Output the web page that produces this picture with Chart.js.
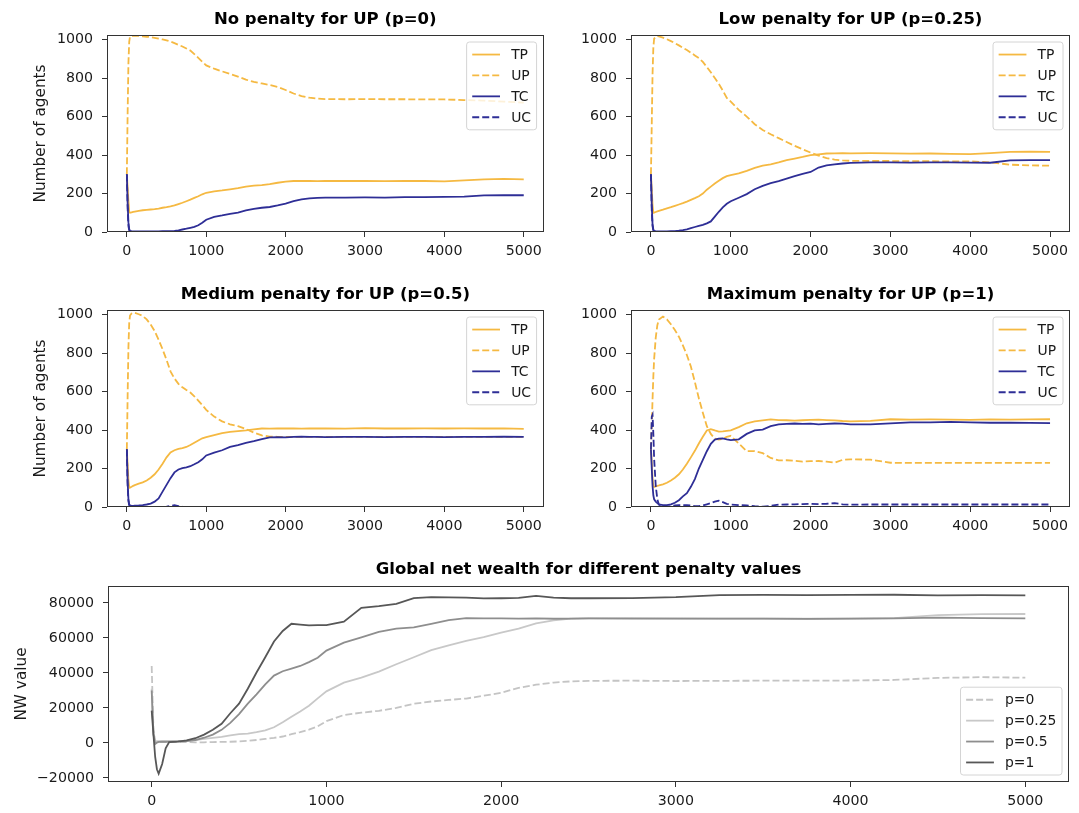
<!DOCTYPE html>
<html>
<head>
<meta charset="utf-8">
<script src="https://cdn.jsdelivr.net/npm/chart.js@4.4.0/dist/chart.umd.min.js"></script>
<style>
  html, body { margin: 0; padding: 0; background: #fff; }
  #fig { position: relative; width: 1079px; height: 813px; overflow: hidden; background: #fff; }
  #fig canvas { position: absolute; }
</style>
</head>
<body>
<div id="fig">
  <canvas id="c1" width="548" height="268" style="left:0px;top:0px"></canvas>
  <canvas id="c2" width="531" height="268" style="left:548px;top:0px"></canvas>
  <canvas id="c3" width="548" height="268" style="left:0px;top:275px"></canvas>
  <canvas id="c4" width="531" height="268" style="left:548px;top:275px"></canvas>
  <canvas id="c5" width="1079" height="263" style="left:0px;top:550px"></canvas>
</div>
<script>
// simulation steps (shared x values of every series)
const STEPS = [0, 10, 20, 30, 40, 60, 80, 100,
  150, 200, 250, 300, 350, 400, 450, 500, 550, 600, 650, 700, 750, 800, 850, 900, 950, 1000,
  1100, 1200, 1300, 1400, 1500, 1600, 1700, 1800, 1900, 2000, 2100, 2200, 2300, 2400, 2500,
  2750, 3000, 3250, 3500, 3750, 4000, 4250, 4500, 4750, 5000];

const X_TICKS = [0, 1000, 2000, 3000, 4000, 5000];
const AGENT_TICKS = [0, 200, 400, 600, 800, 1000];
const NW_TICKS = [-20000, 0, 20000, 40000, 60000, 80000];

// p = 0
const TP_P0 = [300, 230, 160, 105, 100, 102, 104, 106,
  110, 113, 115, 117, 119, 122, 126, 129, 133, 138, 145, 152, 160, 168, 177, 186, 196, 204,
  211, 216, 222, 228, 236, 241, 244, 249, 256, 262, 265, 265, 266, 264, 266,
  265, 266, 264, 266, 265, 263, 268, 274, 276, 274];
const UP_P0 = [300, 620, 880, 990, 1016, 1020, 1020, 1019,
  1019, 1017, 1015, 1013, 1009, 1005, 1001, 996, 990, 982, 973, 964, 954, 943, 925, 905, 885, 866,
  849, 835, 822, 808, 792, 780, 772, 764, 754, 738, 720, 706, 698, 693, 691,
  690, 691, 690, 690, 689, 689, 686, 683, 678, 672];
const TC_P0 = [300, 150, 50, 15, 6, 4, 3, 3,
  3, 3, 3, 3, 3, 3, 4, 4, 5, 6, 9, 13, 17, 22, 27, 35, 48, 64,
  79, 86, 94, 101, 112, 120, 126, 130, 138, 147, 160, 170, 175, 177, 179,
  179, 180, 179, 181, 181, 183, 184, 190, 191, 191];
const UC_P0 = [300, 120, 30, 8, 2, 1, 0, 0,
  0, 0, 0, 0, 0, 0, 0, 0, 0, 0, 0, 0, 0, 0, 0, 0, 0, 0,
  0, 0, 0, 0, 0, 0, 0, 0, 0, 0, 0, 0, 0, 0, 0,
  0, 0, 0, 0, 0, 0, 0, 0, 0, 0];

// p = 0.25
const TP_P1 = [300, 220, 140, 100, 101, 104, 107, 110,
  116, 123, 129, 136, 143, 150, 158, 167, 176, 186, 200, 220, 236, 252, 266, 280, 290, 296,
  305, 318, 333, 345, 352, 362, 374, 382, 390, 400, 404, 408, 409, 410, 409,
  410, 409, 407, 408, 406, 405, 410, 416, 418, 416];
const UP_P1 = [300, 560, 820, 960, 1005, 1015, 1018, 1017,
  1010, 1002, 992, 982, 970, 958, 946, 932, 918, 904, 884, 858, 830, 800, 770, 735, 697, 678,
  635, 600, 560, 530, 508, 488, 468, 448, 430, 413, 397, 384, 376, 372, 370,
  369, 369, 368, 368, 367, 367, 362, 350, 346, 345];
const TC_P1 = [300, 140, 40, 12, 6, 4, 3, 3,
  3, 3, 4, 5, 7, 10, 14, 20, 26, 32, 37, 45, 55, 80, 105, 128, 147, 160,
  178, 197, 222, 240, 254, 265, 278, 290, 302, 312, 335, 346, 352, 356, 359,
  362, 362, 361, 362, 362, 361, 360, 372, 374, 374];
const UC_P1 = [300, 110, 30, 8, 2, 1, 0, 0,
  0, 0, 0, 0, 0, 0, 0, 0, 0, 0, 0, 0, 0, 0, 0, 0, 0, 0,
  0, 0, 0, 0, 0, 0, 0, 0, 0, 0, 0, 0, 0, 0, 0,
  0, 0, 0, 0, 0, 0, 0, 0, 0, 0];

// p = 0.5
const TP_P2 = [300, 220, 140, 100, 101, 105, 110, 114,
  121, 128, 138, 152, 170, 195, 225, 258, 284, 295, 302, 306, 312, 322, 334, 346, 357, 363,
  374, 384, 390, 394, 398, 404, 408, 407, 409, 408, 408, 407, 408, 409, 408,
  407, 410, 408, 408, 409, 408, 409, 408, 409, 406];
const UP_P2 = [300, 580, 830, 960, 995, 1006, 1010, 1009,
  1002, 993, 975, 948, 915, 870, 820, 765, 705, 668, 640, 622, 608, 595, 575, 553, 530, 505,
  470, 445, 430, 420, 405, 387, 372, 366, 365, 365, 365, 365, 365, 365, 365,
  365, 365, 365, 365, 365, 365, 365, 365, 365, 365];
const TC_P2 = [300, 130, 40, 14, 8, 6, 6, 7,
  8, 10, 13, 18, 28, 45, 80, 115, 150, 180, 195, 202, 206, 212, 222, 233, 248, 268,
  283, 295, 312, 322, 333, 342, 353, 362, 363, 362, 365, 366, 364, 365, 363,
  365, 364, 363, 365, 364, 363, 364, 365, 366, 364];
const UC_P2 = [300, 110, 30, 8, 2, 0, 0, 0,
  0, 0, 0, 0, 0, 0, 0, 2, 5, 9, 5, 1, 0, 0, 0, 0, 0, 0,
  0, 0, 0, 0, 0, 0, 0, 0, 0, 0, 0, 0, 0, 0, 0,
  0, 0, 0, 0, 0, 0, 0, 0, 0, 0];

// p = 1
const TP_P3 = [300, 230, 150, 108, 104, 107, 110, 112,
  118, 126, 138, 152, 170, 195, 225, 258, 292, 330, 365, 398, 405, 398, 392, 393, 396, 398,
  415, 435, 445, 450, 455, 452, 451, 449, 451, 453, 454, 452, 450, 447, 445,
  448, 456, 454, 455, 454, 453, 455, 454, 455, 456];
const UP_P3 = [300, 420, 560, 680, 770, 880, 945, 975,
  990, 975, 950, 920, 885, 840, 790, 730, 650, 565, 490, 420, 380, 355, 350, 355, 365, 370,
  330, 290, 290, 280, 255, 242, 243, 240, 236, 238, 239, 236, 230, 245, 248,
  246, 230, 229, 229, 229, 229, 229, 229, 229, 229];
const TC_P3 = [300, 200, 110, 60, 40, 28, 20, 14,
  10, 10, 14, 22, 35, 55, 72, 105, 145, 200, 245, 290, 328, 350, 355, 357, 352, 348,
  352, 380, 398, 402, 420, 430, 432, 434, 432, 433, 430, 432, 434, 433, 430,
  429, 435, 440, 440, 442, 440, 438, 439, 437, 436];
const UC_P3 = [300, 470, 480, 380, 250, 110, 40, 12,
  4, 2, 4, 8, 10, 10, 9, 8, 5, 4, 8, 14, 20, 28, 33, 25, 16, 13,
  10, 8, 4, 2, 6, 12, 13, 14, 15, 16, 15, 17, 20, 14, 12,
  13, 13, 13, 13, 13, 13, 13, 13, 13, 13];

// global net wealth
const NW_P0 = [44000, 8000, 1000, 600, 500, 500, 500, 500,
  500, 500, 400, 400, 500, 600, 700, 900, 1200, 1700, 2300, 2900, 3700, 5000, 6200, 7600, 9500, 12500,
  16000, 17300, 18400, 20000, 22400, 23700, 24600, 25400, 27000, 28700, 31500, 33300, 34500, 35200, 35500,
  35600, 35400, 35500, 35600, 35600, 35700, 36000, 37200, 37600, 37300];
const NW_P1 = [31000, 5000, 800, 1000, 1000, 1000, 1000, 1000,
  1100, 1300, 1700, 2300, 2900, 3500, 4300, 5000, 5400, 6200, 7200, 9000, 11800, 15000, 18000, 21300, 25500, 29500,
  34500, 37300, 40800, 45000, 49000, 53000, 55800, 58300, 60500, 63000, 65300, 68300, 70000, 71000, 71200,
  71300, 71200, 71100, 71000, 71000, 71100, 71300, 73000, 73600, 73700];
const NW_P2 = [30000, 5000, -600, 200, 600, 700, 700, 800,
  900, 1100, 1700, 3000, 4800, 7500, 11500, 16500, 22500, 27800, 33500, 38500, 41000, 42500, 44000, 46200, 48700, 52800,
  57300, 60300, 63500, 65300, 66000, 68000, 70200, 71300, 71200, 71200, 71100, 71200, 71000, 71100, 71200,
  71000, 71100, 71000, 71100, 70900, 71000, 71200, 71600, 71300, 71200];
const NW_P3 = [18500, 5000, -8000, -15000, -17500, -12000, -3000, 500,
  800, 1500, 2700, 4800, 7500, 11000, 17000, 22500, 31000, 40300, 49000, 58000, 64000, 68100, 67600, 67200, 67300, 67400,
  69300, 77200, 78200, 79500, 82800, 83300, 83200, 83000, 82600, 82700, 82900, 84000, 83000, 82700, 82700,
  82800, 83300, 84500, 84600, 84500, 84600, 84700, 84300, 84500, 84300];

const ORANGE = '#f5b942';
const NAVY = '#2e2e96';
const AXIS = '#333333';
const TEXT = '#1a1a1a';
const DASH = [7, 3];
const TICK_FONT = 14.2;

Chart.defaults.font.family = '"DejaVu Sans", sans-serif';

function fmt(v) {
  return v < 0 ? '\u2212' + Math.abs(v) : String(v);
}

// axes frame + matplotlib style legend box
const boxLegend = {
  id: 'boxLegend',
  afterDraw(chart, args, opts) {
    const { ctx, chartArea: a } = chart;
    ctx.save();
    ctx.strokeStyle = AXIS;
    ctx.lineWidth = 1;
    ctx.setLineDash([]);
    const l = Math.round(a.left) + 0.5, t = Math.round(a.top) + 0.5;
    const r = Math.round(a.right) - 0.5, b = Math.round(a.bottom) - 0.5;
    ctx.strokeRect(l, t, r - l, b - t);

    const fs = 13.9;
    ctx.font = fs + 'px "DejaVu Sans"';
    const sets = chart.data.datasets;
    const textW = Math.max(...sets.map(d => ctx.measureText(d.label).width));
    const pad = 5.6, handle = 27.8, gap = 11.1, space = 7;
    const w = pad * 2 + handle + gap + textW;
    const h = pad * 2 + sets.length * fs + (sets.length - 1) * space;
    const x0 = a.right - 7 - w;
    const y0 = opts.corner === 'lower right' ? a.bottom - 7 - h : a.top + 7;

    ctx.beginPath();
    ctx.roundRect(x0, y0, w, h, 2.8);
    ctx.fillStyle = 'rgba(255,255,255,0.8)';
    ctx.fill();
    ctx.strokeStyle = '#d4d4d4';
    ctx.stroke();

    sets.forEach((d, i) => {
      const cy = y0 + pad + i * (fs + space) + fs / 2;
      ctx.beginPath();
      ctx.setLineDash(d.borderDash);
      ctx.strokeStyle = d.borderColor;
      ctx.lineWidth = d.borderWidth;
      ctx.moveTo(x0 + pad, cy);
      ctx.lineTo(x0 + pad + handle, cy);
      ctx.stroke();
      ctx.setLineDash([]);
      ctx.fillStyle = TEXT;
      ctx.textBaseline = 'middle';
      ctx.textAlign = 'left';
      ctx.fillText(d.label, x0 + pad + handle + gap, cy + 1);
    });
    ctx.restore();
  }
};

function panel(id, o) {
  const datasets = o.series.map((s, i) => ({
    label: s.label,
    data: STEPS.map((t, k) => ({ x: t, y: s.values[k] })),
    borderColor: s.color,
    borderWidth: 1.8,
    borderDash: s.dash ? DASH : [],
    pointRadius: 0,
    fill: false,
    tension: 0,
    order: o.series.length - i
  }));

  const tickGrid = { drawOnChartArea: false, drawTicks: true, tickLength: 5, color: AXIS, lineWidth: 1 };

  return new Chart(document.getElementById(id), {
    type: 'line',
    data: { datasets },
    options: {
      responsive: false,
      animation: false,
      devicePixelRatio: 1,
      events: [],
      layout: { padding: { left: 0, right: o.padRight, top: 0, bottom: 0 } },
      scales: {
        x: {
          type: 'linear',
          min: -250,
          max: 5250,
          afterBuildTicks: s => { s.ticks = X_TICKS.map(v => ({ value: v })); },
          afterFit: s => { s.height = o.xHeight; },
          grid: tickGrid,
          border: { display: false },
          ticks: { padding: 6, color: TEXT, font: { size: TICK_FONT }, callback: fmt, maxRotation: 0, autoSkip: false }
        },
        y: {
          type: 'linear',
          min: o.yMin,
          max: o.yMax,
          afterBuildTicks: s => { s.ticks = o.yTicks.map(v => ({ value: v })); },
          afterFit: s => { s.width = o.yWidth; },
          grid: tickGrid,
          border: { display: false },
          ticks: { padding: 9, color: TEXT, font: { size: TICK_FONT }, callback: fmt, autoSkip: false },
          title: o.yTitle
            ? { display: true, text: o.yTitle, color: TEXT, font: { size: 15.3 }, padding: { top: o.yTitlePad, bottom: 0 } }
            : { display: false }
        }
      },
      plugins: {
        legend: { display: false },
        tooltip: { enabled: false },
        title: {
          display: true,
          text: o.title,
          fullSize: false,
          color: '#000',
          font: { size: 16.5, weight: 'bold' },
          padding: { top: o.titleTop, bottom: o.titleBottom }
        },
        boxLegend: { corner: o.corner }
      }
    },
    plugins: [boxLegend]
  });
}

function agentSeries(tp, up, tc, uc) {
  return [
    { label: 'TP', values: tp, color: ORANGE, dash: false },
    { label: 'UP', values: up, color: ORANGE, dash: true },
    { label: 'TC', values: tc, color: NAVY, dash: false },
    { label: 'UC', values: uc, color: NAVY, dash: true }
  ];
}

const topLeft = { yWidth: 107, padRight: 3, xHeight: 36, titleTop: 9.4, titleBottom: 5.8,
  yMin: 0, yMax: 1024, yTicks: AGENT_TICKS, corner: 'upper right' };
const topRight = { yWidth: 83, padRight: 9, xHeight: 36, titleTop: 9.4, titleBottom: 5.8,
  yMin: 0, yMax: 1024, yTicks: AGENT_TICKS, corner: 'upper right' };

panel('c1', Object.assign({}, topLeft, {
  title: 'No penalty for UP (p=0)', yTitle: 'Number of agents', yTitlePad: 31.6,
  series: agentSeries(TP_P0, UP_P0, TC_P0, UC_P0)
}));
panel('c2', Object.assign({}, topRight, {
  title: 'Low penalty for UP (p=0.25)',
  series: agentSeries(TP_P1, UP_P1, TC_P1, UC_P1)
}));
panel('c3', Object.assign({}, topLeft, {
  title: 'Medium penalty for UP (p=0.5)', yTitle: 'Number of agents', yTitlePad: 31.6,
  series: agentSeries(TP_P2, UP_P2, TC_P2, UC_P2)
}));
panel('c4', Object.assign({}, topRight, {
  title: 'Maximum penalty for UP (p=1)',
  series: agentSeries(TP_P3, UP_P3, TC_P3, UC_P3)
}));
panel('c5', {
  yWidth: 108, padRight: 10, xHeight: 31, titleTop: 10.1, titleBottom: 6.1,
  yMin: -22300, yMax: 89700, yTicks: NW_TICKS, corner: 'lower right',
  title: 'Global net wealth for different penalty values', yTitle: 'NW value', yTitlePad: 13,
  series: [
    { label: 'p=0', values: NW_P0, color: '#c4c4c4', dash: true },
    { label: 'p=0.25', values: NW_P1, color: '#c8c8c8', dash: false },
    { label: 'p=0.5', values: NW_P2, color: '#8e8e8e', dash: false },
    { label: 'p=1', values: NW_P3, color: '#575757', dash: false }
  ]
});
</script>
</body>
</html>
